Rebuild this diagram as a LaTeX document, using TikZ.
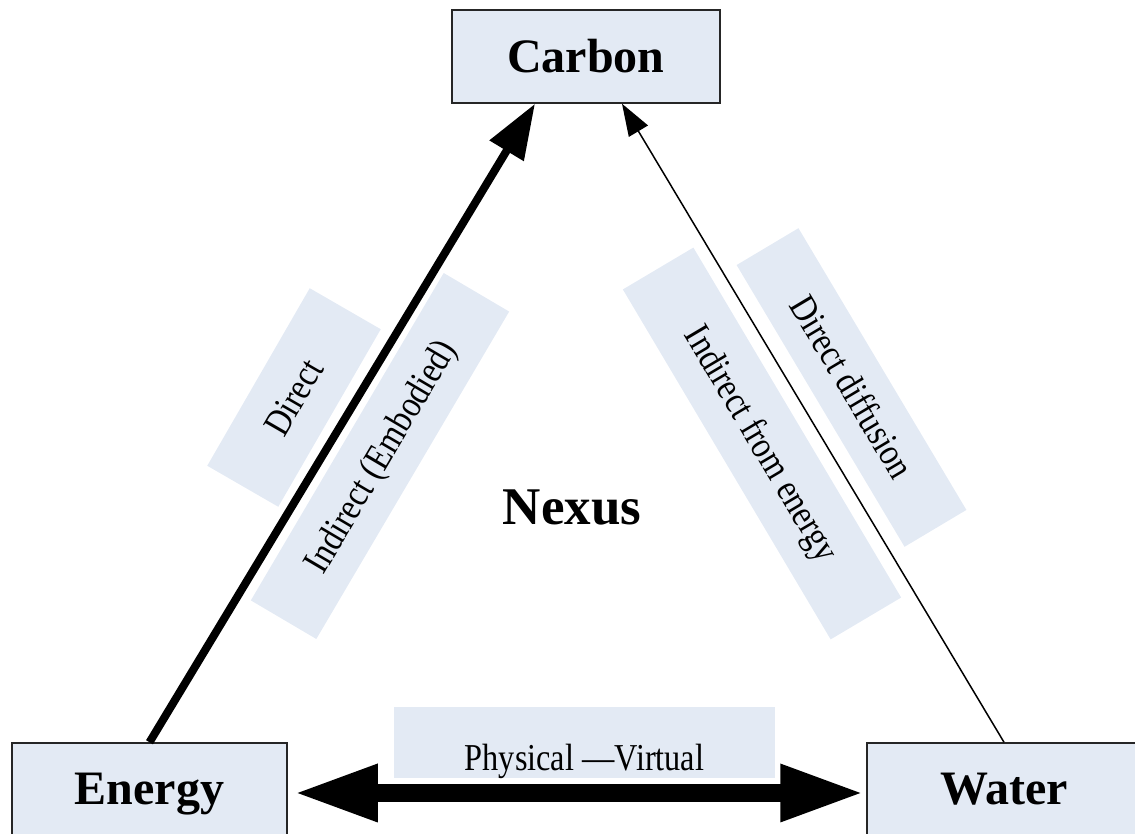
\documentclass[tikz,border=0pt]{standalone}
\usepackage{fontspec}
\setmainfont{Liberation Serif}
\newfontfamily\tagserif[FakeStretch=0.85]{Liberation Serif}
\usetikzlibrary{arrows.meta}
\definecolor{boxfill}{RGB}{227,234,244}
\newcommand{\namefont}{\fontsize{48}{52}\selectfont\bfseries}
\newcommand{\tagfont}{\tagserif\fontsize{38}{42}\selectfont}

\begin{document}
\begin{tikzpicture}[x=1pt,y=1pt,
    mainbox/.style={draw=black!85,line width=1.5pt,fill=boxfill,text height=33pt,text depth=0pt,font=\namefont},
    tagbox/.style={fill=boxfill,inner sep=0pt,text height=26pt,text depth=2pt,font=\tagfont}]
    \useasboundingbox (0,0) rectangle (1135,834);
    \clip (0,0) rectangle (1135,834);
    % the three boxes
    \node[mainbox,minimum width=268pt,minimum height=93pt] (carbon) at (586,777.5){Carbon};
    \node[mainbox,minimum width=275pt,minimum height=96pt,text depth=5pt] (energy) at (149.5,43){Energy};
    \node[mainbox,minimum width=274pt,minimum height=96pt,text depth=5pt] (water) at (1004,43){Water};
    \node[font=\namefont\fontsize{53}{56}\selectfont] (nexus) at (572,326.5){Nexus};
    % labels along the sides
    \node[tagbox,minimum width=381pt,minimum height=71pt,text height=64pt,text depth=7pt] (physical) at (584.5,91.5){Physical —Virtual};
    \node[tagbox,rotate=60,minimum width=205pt,minimum height=82pt] (direct) at (294,436.5){Direct};
    \node[tagbox,rotate=59.5,minimum width=380pt,minimum height=76pt] (embodied) at (380,378){Indirect (Embodied)};
    \node[tagbox,rotate=-59.3,minimum width=407pt,minimum height=82pt] (fromenergy) at (762,390.5){Indirect from energy};
    \node[tagbox,rotate=-59.2,minimum width=328pt,minimum height=72pt] (diffusion) at (851.5,446.5){Direct diffusion};
    % arrows
    \draw[line width=8pt,-{Triangle[length=55pt,width=38pt]}] (energy.north) -- ([xshift=-51pt]carbon.south);
    \draw[line width=1.5pt,-{Triangle[length=32pt,width=22pt]}] (water.north) -- ([xshift=36pt]carbon.south);
    \draw[line width=18pt,{Triangle[length=84pt,width=53pt]}-{Triangle[length=84pt,width=53pt]}] ([xshift=6pt,yshift=-2pt]energy.east) -- ([xshift=-2pt,yshift=-2pt]water.west);
\end{tikzpicture}
\end{document}
